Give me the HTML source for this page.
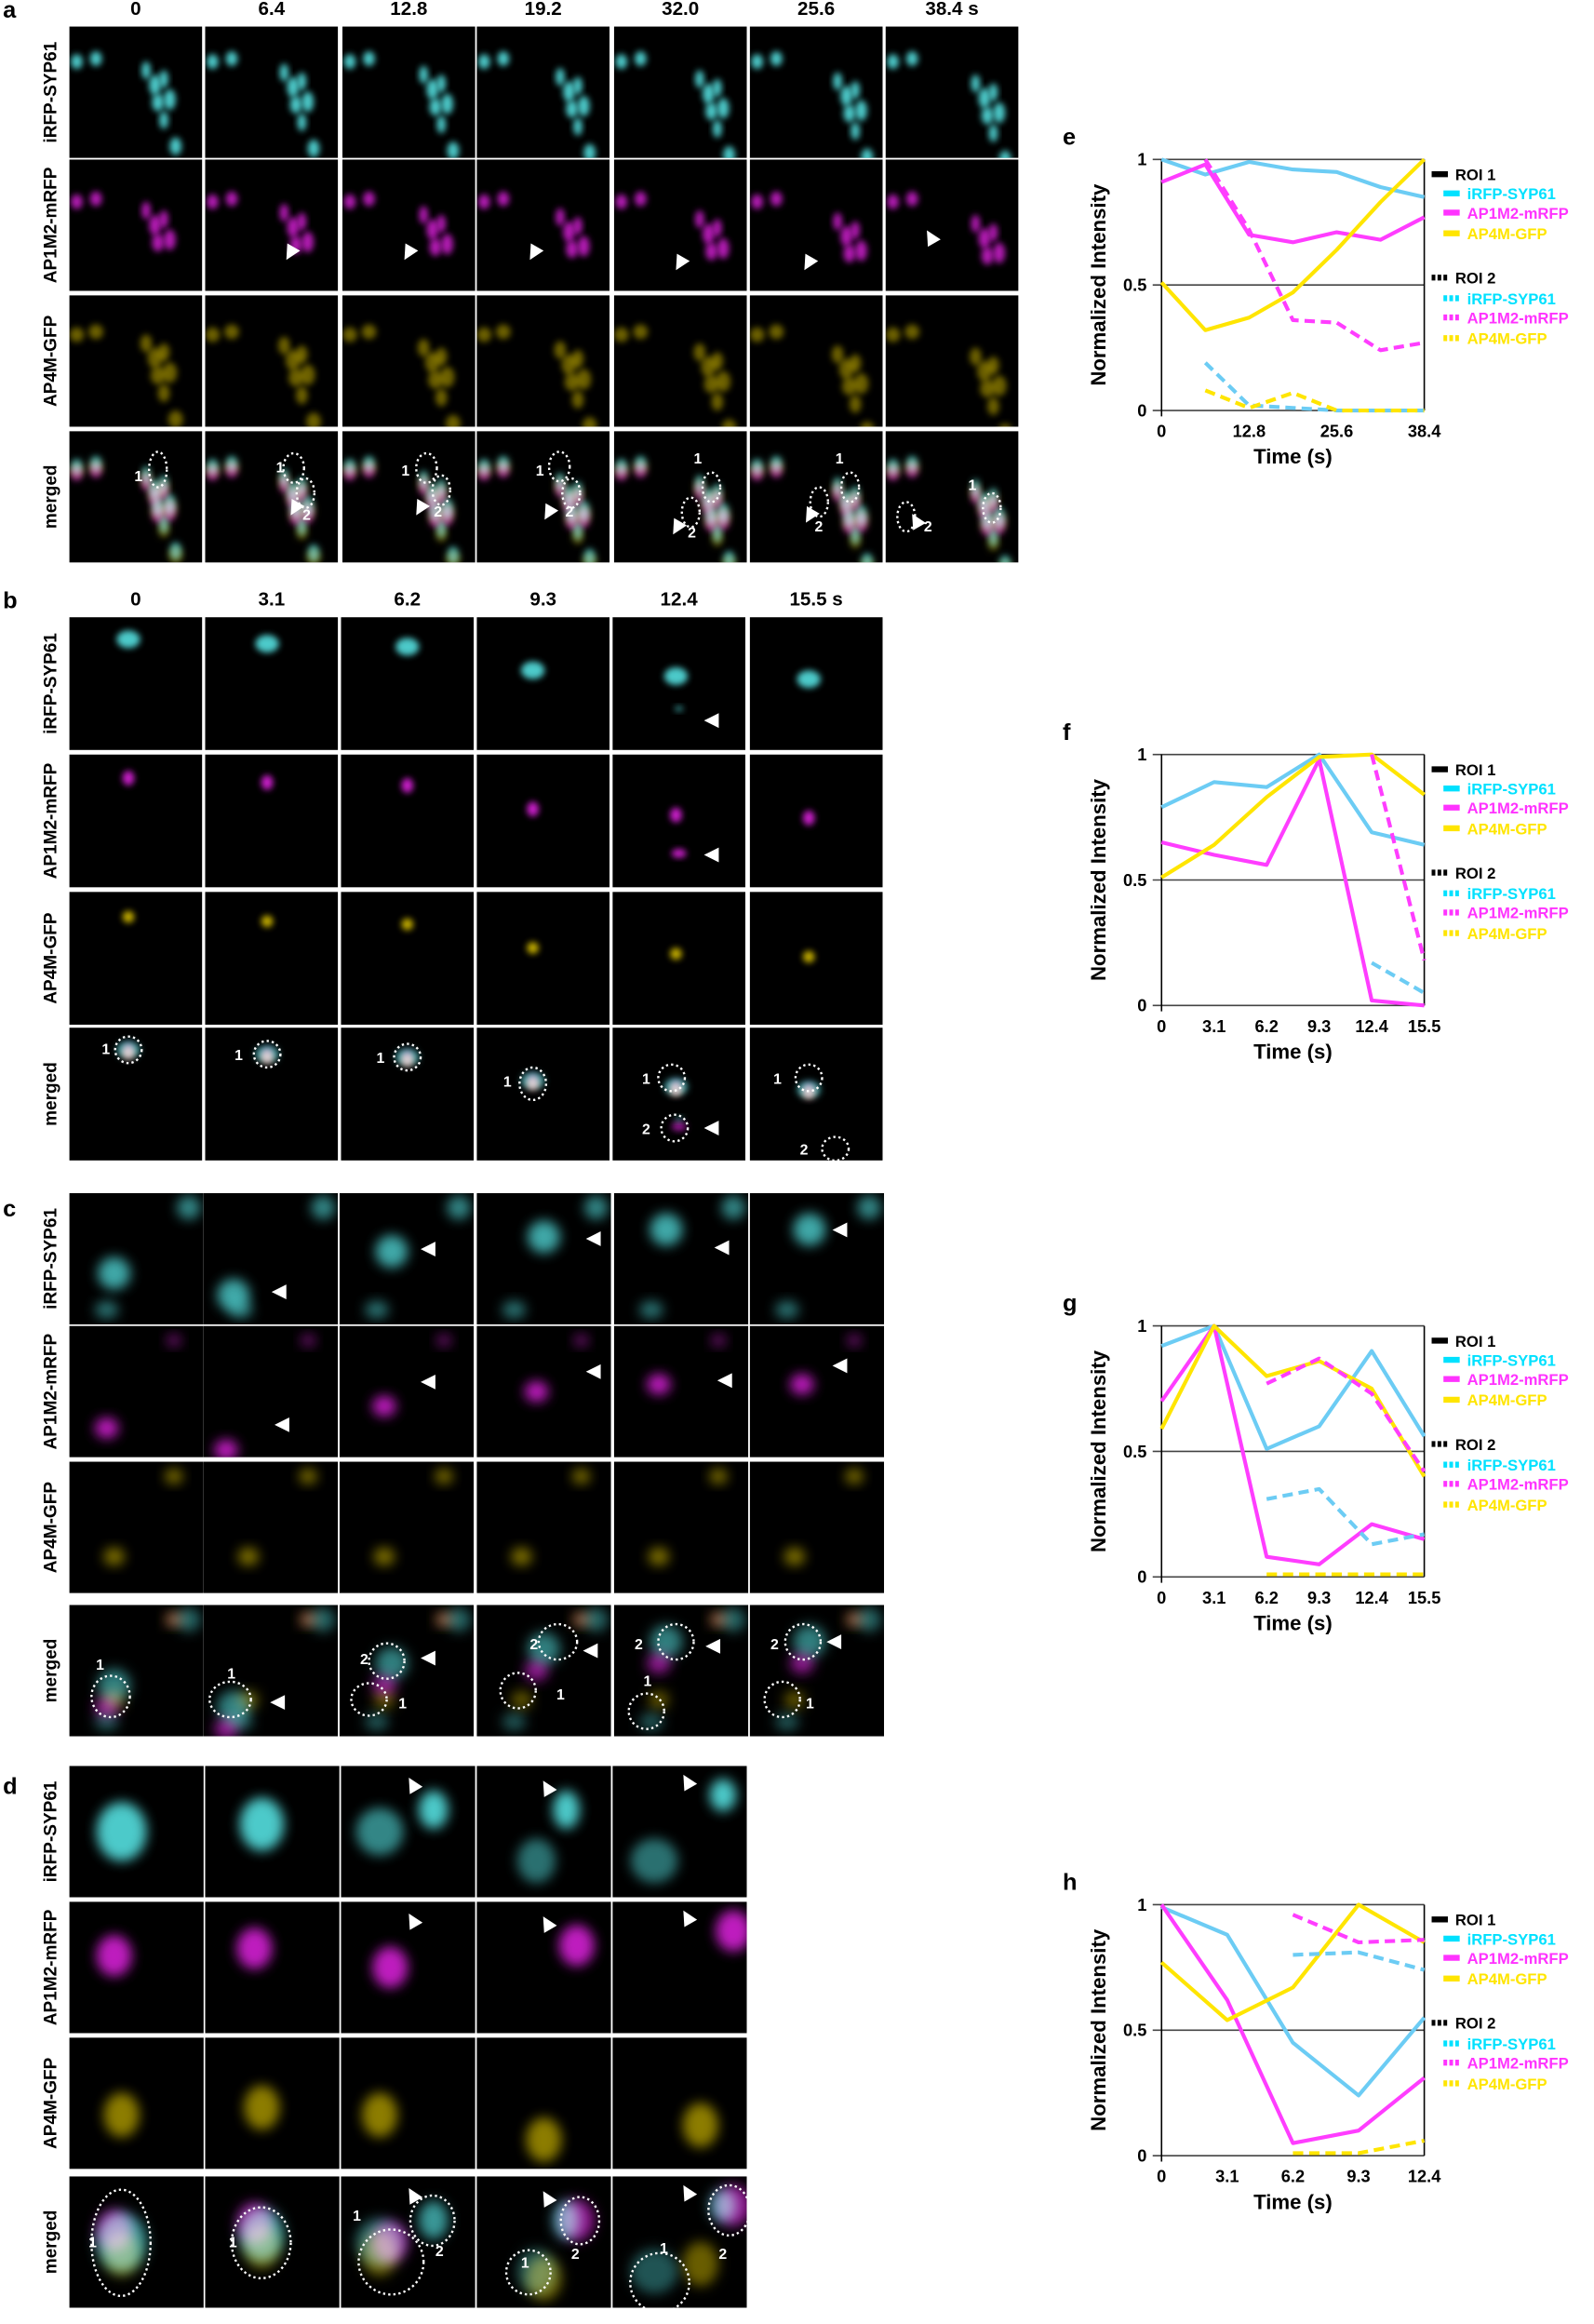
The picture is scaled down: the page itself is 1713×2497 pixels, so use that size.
<!DOCTYPE html>
<html><head><meta charset="utf-8"><style>
html,body{margin:0;padding:0;background:#fff}
svg{display:block}
text{font-family:"Liberation Sans",Arial,sans-serif;font-weight:bold}
</style></head><body>
<svg id="fig" xmlns="http://www.w3.org/2000/svg" width="1713" height="2497" viewBox="0 0 1080 1574" preserveAspectRatio="none">
<defs>
<filter id="b1" x="-50%" y="-50%" width="200%" height="200%"><feGaussianBlur stdDeviation="2.2"/></filter>
<filter id="b2" x="-50%" y="-50%" width="200%" height="200%"><feGaussianBlur stdDeviation="4"/></filter>
</defs>
<g id="micro"></g>
<g id="charts"></g>
</svg>
<script>
// ---------- chart data ----------
const eTimes=[0,6.4,12.8,19.2,25.6,32.0,38.4];
const eTicks=["0","12.8","25.6","38.4"];
const eR1Cyan=[1,0.94,0.99,0.96,0.95,0.89,0.85];
const eR1Mag=[0.91,0.98,0.70,0.67,0.71,0.68,0.77];
const eR1Yel=[0.51,0.32,0.37,0.47,0.64,0.83,1.0];
const eR2Cyan=[null,0.19,0.02,0.01,0,0,0];
const eR2Mag=[null,1.0,0.72,0.36,0.35,0.24,0.27];
const eR2Yel=[null,0.08,0.01,0.07,0,0,0];

const fTimes=[0,3.1,6.2,9.3,12.4,15.5];
const fTicks=["0","3.1","6.2","9.3","12.4","15.5"];
const fR1Cyan=[0.79,0.89,0.87,1.0,0.69,0.64];
const fR1Mag=[0.65,0.60,0.56,0.98,0.02,0];
const fR1Yel=[0.51,0.64,0.83,0.99,1.0,0.84];
const fR2Cyan=[null,null,null,null,0.17,0.05];
const fR2Mag=[null,null,null,null,1.0,0.18];
const fR2Yel=[null,null,null,null,null,null];

const gTimes=[0,3.1,6.2,9.3,12.4,15.5];
const gTicks=["0","3.1","6.2","9.3","12.4","15.5"];
const gR1Cyan=[0.92,1.0,0.51,0.60,0.90,0.56];
const gR1Mag=[0.70,1.0,0.08,0.05,0.21,0.15];
const gR1Yel=[0.59,1.0,0.80,0.86,0.75,0.40];
const gR2Cyan=[null,null,0.31,0.35,0.13,0.17];
const gR2Mag=[null,null,0.77,0.87,0.73,0.42];
const gR2Yel=[null,null,0.01,0.01,0.01,0.01];

const hTimes=[0,3.1,6.2,9.3,12.4];
const hTicks=["0","3.1","6.2","9.3","12.4"];
const hR1Cyan=[0.99,0.88,0.45,0.24,0.55];
const hR1Mag=[1.0,0.62,0.05,0.10,0.31];
const hR1Yel=[0.77,0.54,0.67,1.0,0.85];
const hR2Cyan=[null,null,0.80,0.81,0.74];
const hR2Mag=[null,null,0.96,0.85,0.86];
const hR2Yel=[null,null,0.01,0.01,0.06];

const yTickVals=[0,0.5,1];
const yTickLabels=["0","0.5","1"];

const NS="http://www.w3.org/2000/svg";
function el(tag,attrs,parent,txt){const e=document.createElementNS(NS,tag);for(const k in attrs)e.setAttribute(k,attrs[k]);if(txt!==undefined)e.textContent=txt;(parent||document.getElementById('fig')).appendChild(e);return e;}

const CY="#6cccf4",MG="#ff3dff",YL="#ffe500";
const LCY="#00e1ff",LMG="#ff33ff",LYL="#ffe500";

function chart(letter,top,times,ticks,series){
  const g=el('g',{},document.getElementById('charts'));
  
  
  const x0=787,x1=965,h=170,y1=top+h;
  const tmin=times[0],tmax=times[times.length-1];
  const X=v=>x0+(v-tmin)/(tmax-tmin)*(x1-x0);
  const Y=v=>y1-v*h;
  const lab=el('text',{x:720,y:top-10,'font-size':16},g,letter);
  
  
  yTickVals.forEach((v,i)=>{
    const ln=el('line',{x1:x0-6,x2:x1,y1:Y(v),y2:Y(v),stroke:'#444','stroke-width':1},g);
    
    
    const t=el('text',{x:x0-10,y:Y(v)+4,'font-size':11.5,'text-anchor':'end'},g,yTickLabels[i]);
    
    
  });
  el('line',{x1:x0,x2:x0,y1:top,y2:y1+4,stroke:'#000','stroke-width':1},g);
  el('line',{x1:x1,x2:x1,y1:top,y2:y1,stroke:'#000','stroke-width':1},g);
  const step=(times.length>ticks.length)?2:1;
  ticks.forEach((lb,i)=>{
    const t=el('text',{x:X(times[i*step]),y:y1+18,'font-size':11.5,'text-anchor':'middle'},g,lb);
    
    
  });
  const xt=el('text',{x:(x0+x1)/2,y:y1+36,'font-size':14,'text-anchor':'middle'},g,'Time (s)');
  
  
  const yt=el('text',{x:0,y:0,'font-size':14,'text-anchor':'middle',transform:`translate(749,${top+h/2}) rotate(-90)`},g,'Normalized Intensity');
  
  
  series.forEach(s=>{
    let pts=[];
    s.vals.forEach((v,i)=>{if(v!==null)pts.push(X(times[i])+','+Y(v));});
    if(pts.length<2)return;
    const p=el('polyline',{points:pts.join(' '),fill:'none',stroke:s.c,'stroke-width':2.6,'stroke-linejoin':'round'},g);
    if(s.dash)p.setAttribute('stroke-dasharray','7,4');
    
    
  });
  const lx=970;
  const items=[[10,'ROI 1','#000',0],[23,'iRFP-SYP61',LCY,0],[36,'AP1M2-mRFP',LMG,0],[50,'AP4M-GFP',LYL,0],
               [80,'ROI 2','#000',1],[94,'iRFP-SYP61',LCY,1],[107,'AP1M2-mRFP',LMG,1],[121,'AP4M-GFP',LYL,1]];
  items.forEach(it=>{
    const yy=top+it[0];
    const indent=it[1].startsWith('ROI')?0:8;
    const sw=el('line',{x1:lx+indent,x2:lx+indent+11,y1:yy,y2:yy,stroke:it[2],'stroke-width':4},g);
    if(it[3])sw.setAttribute('stroke-dasharray','2.5,1.5');
    
    
    const t=el('text',{x:lx+indent+16,y:yy+4,'font-size':10.5,fill:it[2]},g,it[1]);
    
    
  });
}
function mk(c1,m1,y1,c2,m2,y2){return [{vals:c1,c:CY,name:'roi1-irfp-syp61-line'},{vals:m1,c:MG,name:'roi1-ap1m2-mrfp-line'},{vals:y1,c:YL,name:'roi1-ap4m-gfp-line'},
 {vals:c2,c:CY,dash:1,name:'roi2-irfp-syp61-line'},{vals:m2,c:MG,dash:1,name:'roi2-ap1m2-mrfp-line'},{vals:y2,c:YL,dash:1,name:'roi2-ap4m-gfp-line'}];}
chart('e',108,eTimes,eTicks,mk(eR1Cyan,eR1Mag,eR1Yel,eR2Cyan,eR2Mag,eR2Yel));
chart('f',511,fTimes,fTicks,mk(fR1Cyan,fR1Mag,fR1Yel,fR2Cyan,fR2Mag,fR2Yel));
chart('g',898,gTimes,gTicks,mk(gR1Cyan,gR1Mag,gR1Yel,gR2Cyan,gR2Mag,gR2Yel));
chart('h',1290,hTimes,hTicks,mk(hR1Cyan,hR1Mag,hR1Yel,hR2Cyan,hR2Mag,hR2Yel));

// ---------- microscopy panels ----------
const M=document.getElementById('micro');
const rowNames=['iRFP-SYP61','AP1M2-mRFP','AP4M-GFP','merged'];
const chanCol=['#55e0e0','#e020e0','#d8c000'];
function panelSet(letter,labelY,headers,colX,colW,rowY,rowH,blobs,big,circles,arrows){
  const g=el('g',{},M);
  
  
  const lab=el('text',{x:2,y:labelY,'font-size':16},g,letter);
  
  
  headers.forEach((h,i)=>{const t=el('text',{x:colX[i]+colW/2,y:labelY-2,'font-size':13,'text-anchor':'middle'},g,h);
    
    });
  rowY.forEach((ry,r)=>{
    const t=el('text',{x:0,y:0,'font-size':12,'text-anchor':'middle',transform:`translate(38,${ry+rowH/2}) rotate(-90)`},g,rowNames[r]);
    
    
    colX.forEach((cx,c)=>{
      const cell=el('svg',{x:cx,y:ry,width:colW,height:rowH,viewBox:`0 0 ${colW} ${rowH}`},g);
      
      
      el('rect',{x:0,y:0,width:colW,height:rowH,fill:'#000'},cell);
      const bs=blobs[c]||blobs[0];
      const chans=r<3?[r]:[2,1,0];
      chans.forEach(ch=>{
        (bs[ch]||[]).forEach(b=>{
          el('ellipse',{cx:b[0]*colW/90,cy:b[1]*rowH/90,rx:b[2],ry:b[3],fill:chanCol[ch],opacity:(b[4]||0.9)*(r===3?0.75:1),filter:big?'url(#b2)':'url(#b1)',style:r===3?'mix-blend-mode:screen':''},cell);
        });
      });
      if(r===3&&circles[c]){circles[c].forEach(cc=>{
        el('ellipse',{cx:cc[0],cy:cc[1],rx:cc[2],ry:cc[3],fill:'none',stroke:'#fff','stroke-width':1.5,'stroke-dasharray':'1.5,2'},cell);
        el('text',{x:cc[4],y:cc[5],'font-size':10,fill:'#fff'},cell,cc[6]);
      });}
      if(arrows[r]&&arrows[r][c]){const a=arrows[r][c];
        const tri=el('polygon',{points:`${a[0]},${a[1]} ${a[0]+10},${a[1]-5} ${a[0]+10},${a[1]+5}`,fill:'#fff',transform:a[2]?`rotate(${a[2]} ${a[0]} ${a[1]})`:''},cell);
        
        }
    });
  });
}
// panel a
const aBase=[[5,24,4,5],[18,22,4,5],[52,30,3,6],[58,40,4,7],[64,36,3,6],[60,52,4,6],[68,50,4,7],[64,64,3,6],[72,82,4,6]];
const aBlobs=[0,1,2,3,4,5,6].map(i=>{const s=i*1.5;const cy=aBase.map(b=>[b[0]+(b[0]>40?s:0),b[1]+(b[0]>40?i*1.5:0),b[2],b[3]]);
  return [cy,cy.slice(0,7).map(b=>[b[0],b[1]+5,b[2],b[3],0.8]),cy.map(b=>[b[0],b[1]+3,b[2]+1,b[3],0.5])];});
const aCirc={0:[[60,26,6,12,44,34,'1']],1:[[60,25,7,10,48,28,'1'],[68,42,6,10,66,60,'2']],2:[[57,25,7,10,40,30,'1'],[67,40,6,10,62,58,'2']],
 3:[[56,24,7,10,40,30,'1'],[64,42,6,10,60,58,'2']],4:[[66,38,6,10,54,22,'1'],[52,55,6,10,50,72,'2']],5:[[68,38,6,10,58,22,'1'],[47,48,6,10,44,68,'2']],6:[[72,52,6,10,56,40,'1'],[14,58,6,10,26,68,'2']]};
const aArr=[null,{1:[55,68,-60],2:[42,68,-60],3:[36,68,-60],4:[42,75,-60],5:[37,75,-60],6:[28,48,60]},null,{1:[58,57,-60],2:[50,57,-60],3:[46,60,-60],4:[40,70,-60],5:[38,62,-60],6:[18,56,60]}];
panelSet('a',12,['0','6.4','12.8','19.2','32.0','25.6','38.4 s'],[47,139,232,323,416,508,600],90,[18,108,200,292],89,aBlobs,false,aCirc,aArr);
// panel b
const bBlobs=[[40,15],[42,18],[45,20],[38,36],[43,40],[40,42]].map((p,i)=>[[[p[0],p[1],8,6]].concat(i==4?[[45,62,3,2,0.6]]:[]),[[p[0],p[1]+1,4,5]].concat(i==4?[[45,67,5,3]]:[]),[[p[0],p[1]+2,4,4]]]);
const bCirc={0:[[40,15,9,9,22,18,'1']],1:[[42,18,9,9,20,22,'1']],2:[[45,20,9,9,24,24,'1']],3:[[38,38,9,11,18,40,'1']],4:[[40,34,9,9,20,38,'1'],[42,68,9,9,20,72,'2']],5:[[40,34,9,9,16,38,'1'],[58,82,9,8,34,86,'2']]};
const bArr=[{4:[62,70,0]},{4:[62,68,0]},null,{4:[62,68,0]}];
panelSet('b',412,['0','3.1','6.2','9.3','12.4','15.5 s'],[47,139,231,323,415,508],90,[418,511,604,696],90,bBlobs,false,bCirc,bArr);
// panel c
const cBlobs=[[30,55],[20,70],[35,40],[45,30],[35,25],[40,25]].map((p,i)=>[[[p[0],p[1],11,11,0.75],[80,10,8,8,0.6],[25,80,8,6,0.5]],[[p[0]-5,p[1]+15,8,7,0.85],[70,10,5,4,0.5]],[[30,65,7,6,0.6],[70,10,6,5,0.6]]]);
const cCirc={0:[[28,62,13,14,18,44,'1']],1:[[18,64,14,12,16,50,'1']],2:[[32,38,12,12,14,40,'2'],[20,64,12,11,40,70,'1']],3:[[55,25,13,12,36,30,'2'],[28,58,12,12,54,64,'1']],4:[[42,25,12,12,14,30,'2'],[22,72,12,12,20,55,'1']],5:[[36,25,12,12,14,30,'2'],[22,64,12,12,38,70,'1']]};
const cArr=[{1:[46,67,0],2:[55,38,0],3:[74,31,0],4:[68,37,0],5:[56,25,0]},{1:[48,67,0],2:[55,38,0],3:[74,31,0],4:[70,37,0],5:[56,27,0]},null,{1:[45,66,0],2:[55,36,0],3:[72,31,0],4:[62,28,0],5:[52,25,0]}];
panelSet('c',824,['','','','','',''],[47,138,230,323,416,508],91,[808,898,990,1087],89,cBlobs,true,cCirc,cArr);
// panel d
const dBlobs=[[[35,45,17,20]],[[38,40,15,18]],[[26,45,16,16,0.6],[62,30,10,13]],[[60,30,9,13],[40,65,13,15,0.5]],[[74,20,9,11],[28,65,16,15,0.5]]]
 .map((cy,i)=>[cy,[[cy[0][0]-5+(i>1?12:0),cy[0][1]-(i>1?0:8),12,14,0.85]],[[cy[0][0]+(i>2?-15:0),cy[0][1]+(i>2?40:8),12,15,0.65]]]);
const dCirc={0:[[35,45,20,36,13,48,'1']],1:[[38,45,20,24,16,48,'1']],2:[[62,30,15,17,8,30,'1'],[34,58,22,22,64,54,'2']],3:[[70,30,13,16,64,56,'2'],[35,65,15,15,30,62,'1']],4:[[79,23,14,17,72,56,'2'],[32,72,20,20,32,52,'1']]};
const dArr=[{2:[46,8,60],3:[45,10,60],4:[48,6,60]},{2:[46,8,60],3:[45,10,60],4:[48,6,60]},null,{2:[46,8,60],3:[45,10,60],4:[48,6,60]}];
panelSet('d',1215,['','','','',''],[47,139,231,323,415],91,[1196,1288,1380,1474],89,dBlobs,true,dCirc,dArr);
</script>
</body></html>
